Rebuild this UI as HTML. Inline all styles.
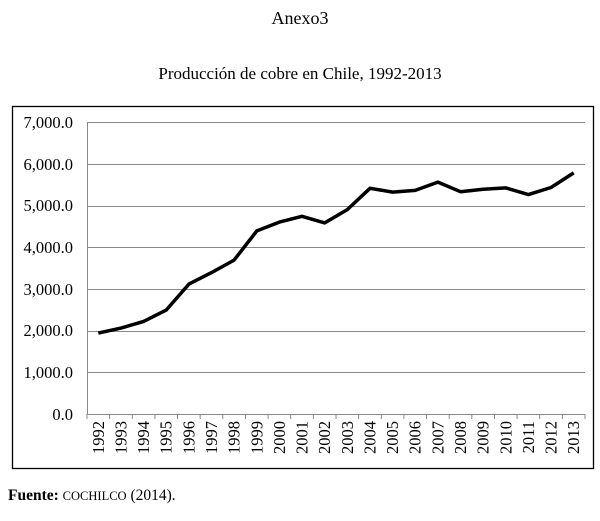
<!DOCTYPE html>
<html><head><meta charset="utf-8"><style>
body{margin:0;background:#fff;width:600px;height:516px;overflow:hidden}
svg text{font-family:"Liberation Serif",serif;fill:#000}
</style></head><body>
<svg width="600" height="516" xmlns="http://www.w3.org/2000/svg">
<text x="300" y="24" font-size="18" text-anchor="middle">Anexo3</text>
<text x="300" y="79" font-size="17" text-anchor="middle">Producción de cobre en Chile, 1992-2013</text>
<rect x="12.5" y="106.5" width="581" height="362" fill="none" stroke="#000" stroke-width="1.3"/>
<g stroke="#888" stroke-width="1">
<line x1="87" y1="122.5" x2="585" y2="122.5"/>
<line x1="87" y1="164.5" x2="585" y2="164.5"/>
<line x1="87" y1="206.5" x2="585" y2="206.5"/>
<line x1="87" y1="247.5" x2="585" y2="247.5"/>
<line x1="87" y1="289.5" x2="585" y2="289.5"/>
<line x1="87" y1="331.5" x2="585" y2="331.5"/>
<line x1="87" y1="372.5" x2="585" y2="372.5"/>
<line x1="87" y1="414.5" x2="585" y2="414.5"/>
<line x1="87.5" y1="122" x2="87.5" y2="414"/>
</g>
<g font-size="16.5" text-anchor="end">
<text x="73" y="128">7,000.0</text>
<text x="73" y="170">6,000.0</text>
<text x="73" y="211">5,000.0</text>
<text x="73" y="253">4,000.0</text>
<text x="73" y="295">3,000.0</text>
<text x="73" y="336">2,000.0</text>
<text x="73" y="378">1,000.0</text>
<text x="73" y="420">0.0</text>
</g>
<g id="ticks" stroke="#888"></g>
<g id="lbl" font-size="16.5" text-anchor="end"></g>
<polyline id="ln" fill="none" stroke="#000" stroke-width="3.5" stroke-linejoin="round"/>
<text x="8" y="500" font-size="15.5"><tspan font-weight="bold">Fuente:</tspan> <tspan font-size="12.5">COCHILCO</tspan> (2014).</text>
</svg>
<script>
var d=[1940,2060,2220,2490,3115,3390,3690,4390,4600,4740,4580,4900,5410,5320,5360,5560,5330,5390,5420,5260,5430,5780];
var x0=87,w=(585-87)/22,pts=[],t="",l="";
for(var i=0;i<22;i++){var cx=x0+w*(i+0.5);pts.push(cx.toFixed(1)+","+(414-d[i]*292/7000).toFixed(1));}
for(var i=0;i<=22;i++){var tx=(x0+w*i).toFixed(1);t+='<line x1="'+tx+'" y1="414" x2="'+tx+'" y2="419"/>';}
for(var i=0;i<22;i++){var cx=x0+w*(i+0.5)+5.5;l+='<text transform="translate('+cx.toFixed(1)+',421) rotate(-90)">'+(1992+i)+'</text>';}
document.getElementById('ticks').innerHTML=t;
document.getElementById('lbl').innerHTML=l;
document.getElementById('ln').setAttribute('points',pts.join(' '));
</script>
</body></html>
